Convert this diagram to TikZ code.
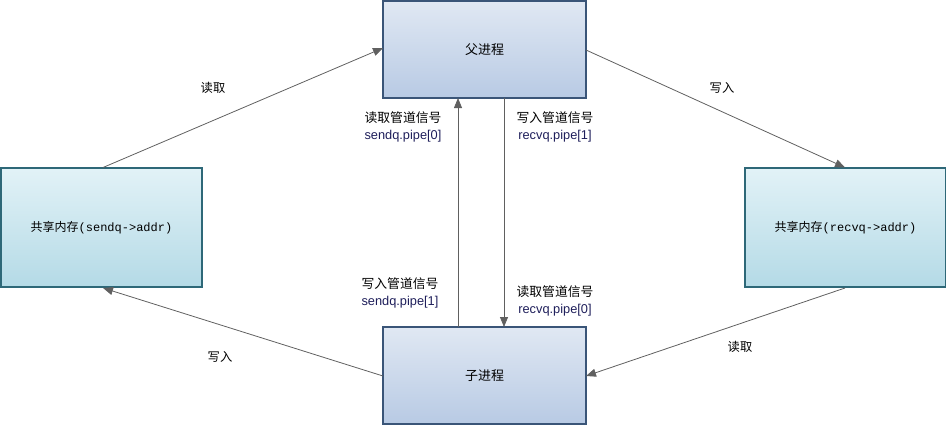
\documentclass[tikz,border=0pt]{standalone}
\usepackage{fontspec}
\setmainfont{Liberation Sans}
\newfontfamily\cjk{Noto Sans CJK SC}
\newfontfamily\monof{Liberation Mono}
\usetikzlibrary{arrows.meta}
\definecolor{procTop}{HTML}{E0E8F3}
\definecolor{procBot}{HTML}{B8CAE4}
\definecolor{procLine}{HTML}{3A5578}
\definecolor{memTop}{HTML}{E2F2F7}
\definecolor{memBot}{HTML}{B4DAE6}
\definecolor{memLine}{HTML}{2E6878}
\definecolor{conn}{HTML}{606060}
\definecolor{pipetxt}{HTML}{1E1E5A}
\begin{document}
\begin{tikzpicture}[x=0.75pt,y=-0.75pt,
  proc/.style={draw=procLine, line width=1.2pt, top color=procTop, bottom color=procBot,
    minimum width=203*0.75pt, minimum height=97*0.75pt, inner sep=0pt, font=\cjk\fontsize{9.75}{11}\selectfont},
  mem/.style={draw=memLine, line width=1.2pt, top color=memTop, bottom color=memBot,
    minimum width=201*0.75pt, minimum height=119*0.75pt, inner sep=0pt, font=\fontsize{9}{11}\selectfont},
  conline/.style={draw=conn, line width=0.6pt, -{Triangle[length=7.5pt,width=6pt]}},
  lbl/.style={font=\cjk\fontsize{9.2}{11}\selectfont, inner sep=0pt},
  pipelbl/.style={align=center, inner sep=0pt, font=\fontsize{9.6}{13}\selectfont}
]
\useasboundingbox (0,0) rectangle (946,426);
\node[proc] (parent) at (484.5,49.5) {父进程};
\node[proc] (child) at (484.5,375.5) {子进程};
\node[mem] (lmem) at (101.5,227.5) {{\cjk 共享内存}\monof(sendq->addr)};
\node[mem] (rmem) at (845.5,227.5) {{\cjk 共享内存}\monof(recvq->addr)};

\coordinate (lt) at (103,167.5);
\coordinate (lb) at (103,288);
\coordinate (rt) at (845,167.5);
\coordinate (rb) at (845,288);
\coordinate (pl) at (383,48);
\coordinate (pr) at (586,50);
\coordinate (cl) at (383,376);
\coordinate (cr) at (586,376);
\coordinate (pb1) at (458,98);
\coordinate (pb2) at (504,98);
\coordinate (ct1) at (458,327);
\coordinate (ct2) at (504,327);

\draw[conline] (lt) -- (pl);
\draw[conline] (pr) -- (rt);
\draw[conline] (rb) -- (cr);
\draw[conline] (cl) -- (lb);
\draw[conline] (ct1) -- (pb1);
\draw[conline] (pb2) -- (ct2);

\node[lbl] (l1) at (213,88) {读取};
\node[lbl] (l2) at (722,88) {写入};
\node[lbl] (l3) at (740,347) {读取};
\node[lbl] (l4) at (220,357) {写入};

\node[pipelbl] (p1) at (403,127) {{\cjk 读取管道信号}\\\textcolor{pipetxt}{sendq.pipe[0]}};
\node[pipelbl] (p2) at (555,127) {{\cjk 写入管道信号}\\\textcolor{pipetxt}{recvq.pipe[1]}};
\node[pipelbl] (p3) at (400,293) {{\cjk 写入管道信号}\\\textcolor{pipetxt}{sendq.pipe[1]}};
\node[pipelbl] (p4) at (555,301) {{\cjk 读取管道信号}\\\textcolor{pipetxt}{recvq.pipe[0]}};
\end{tikzpicture}
\end{document}
